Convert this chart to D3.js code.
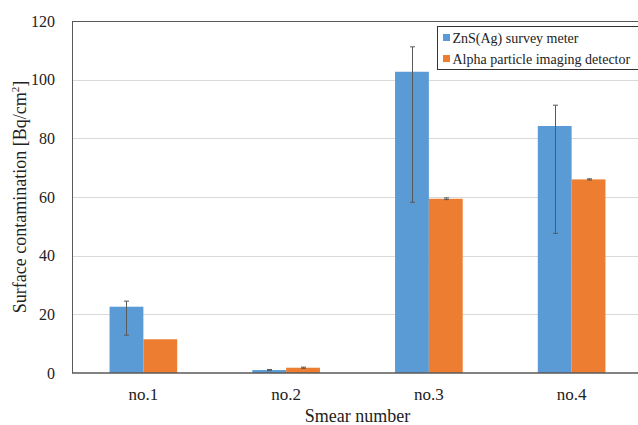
<!DOCTYPE html>
<html>
<head>
<meta charset="utf-8">
<script src="https://cdn.jsdelivr.net/npm/d3@7"></script>
<style>
  body { margin: 0; background: #fff; }
  svg text { font-family: "Liberation Serif", "Times New Roman", serif; fill: #222; }
</style>
</head>
<body>
<svg id="chart" width="638" height="425"></svg>
<script>
// data
var categories = ['no.1', 'no.2', 'no.3', 'no.4'];
var seriesNames = ['ZnS(Ag) survey meter', 'Alpha particle imaging detector'];
var znsValues = [22.6, 1.0, 102.7, 84.2];
var znsUpper = [24.5, 1.2, 111.2, 91.3];
var znsLower = [12.9, 0.8, 58.2, 47.6];
var alphaValues = [11.5, 1.8, 59.4, 66.0];
var alphaUpper = [11.5, 2.0, 59.7, 66.2];
var alphaLower = [11.5, 1.6, 59.1, 65.8];
var yTicks = [0, 20, 40, 60, 80, 100, 120];

var colors = ['#5B9BD5', '#ED7D31'];
var series = [
  { values: znsValues, upper: znsUpper, lower: znsLower },
  { values: alphaValues, upper: alphaUpper, lower: alphaLower }
];

var svg = d3.select('#chart');
// plot runs off the right edge like the source crop
var plotLeft = 72, plotTop = 21, plotRight = 643, plotBottom = 373;

var x = d3.scaleBand().domain(categories).range([plotLeft, plotRight]).paddingInner(0).paddingOuter(0);
var barW = x.bandwidth() * 0.237;
var y = d3.scaleLinear().domain([0, 120]).range([plotBottom, plotTop]);

// gridlines
svg.append('g').selectAll('line').data(yTicks.filter(function(t) { return t > 0 && t < 120 }))
  .enter().append('line')
  .attr('x1', plotLeft).attr('x2', plotRight)
  .attr('y1', function(d) { return Math.round(y(d)) + 0.5 }).attr('y2', function(d) { return Math.round(y(d)) + 0.5 })
  .attr('stroke', '#d9d9d9').attr('stroke-width', 1);

// bars
series.forEach(function(s, si) {
  svg.append('g').selectAll('rect').data(s.values).enter().append('rect')
    .attr('x', function(d, i) { return x(categories[i]) + x.bandwidth() / 2 + (si - 1) * barW })
    .attr('width', barW)
    .attr('y', function(d) { return y(d) })
    .attr('height', function(d) { return plotBottom - y(d) })
    .attr('fill', colors[si]);
});

// error bars
series.forEach(function(s, si) {
  var g = svg.append('g').attr('stroke', '#595959').attr('stroke-width', 1);
  s.values.forEach(function(v, i) {
    var cx = Math.round(x(categories[i]) + x.bandwidth() / 2 + (si - 0.5) * barW) + 0.5;
    if (s.upper[i] - s.lower[i] < 0.05) return;
    g.append('line').attr('x1', cx).attr('x2', cx).attr('y1', y(s.upper[i])).attr('y2', y(s.lower[i]));
    [s.upper[i], s.lower[i]].forEach(function(e) {
      g.append('line').attr('x1', cx - 2.5).attr('x2', cx + 2.5).attr('y1', y(e)).attr('y2', y(e));
    });
  });
});

// axes frame
svg.append('line').attr('x1', plotLeft).attr('x2', plotRight).attr('y1', plotTop + 0.5).attr('y2', plotTop + 0.5)
  .attr('stroke', '#595959').attr('stroke-width', 1);
svg.append('line').attr('x1', plotLeft + 0.5).attr('x2', plotLeft + 0.5).attr('y1', plotTop).attr('y2', plotBottom)
  .attr('stroke', '#595959').attr('stroke-width', 1);
svg.append('line').attr('x1', plotLeft).attr('x2', plotRight).attr('y1', plotBottom).attr('y2', plotBottom)
  .attr('stroke', '#595959').attr('stroke-width', 1.3);

// y tick labels
svg.append('g').selectAll('text').data(yTicks).enter().append('text')
  .attr('x', plotLeft - 17).attr('y', function(d) { return y(d) + 5.7 })
  .attr('text-anchor', 'end').attr('font-size', 16)
  .text(function(d) { return d });

// x tick labels
svg.append('g').selectAll('text').data(categories).enter().append('text')
  .attr('x', function(d) { return x(d) + x.bandwidth() / 2 }).attr('y', 400)
  .attr('text-anchor', 'middle').attr('font-size', 17)
  .text(function(d) { return d });

// axis titles
svg.append('text').attr('x', (plotLeft + 643) / 2).attr('y', 421.5)
  .attr('text-anchor', 'middle').attr('font-size', 18).text('Smear number');

var yt = svg.append('text').attr('transform', 'translate(25.5,' + (plotTop + plotBottom) / 2 + ') rotate(-90)')
  .attr('text-anchor', 'middle').attr('font-size', 18);
yt.append('tspan').text('Surface contamination [Bq/cm');
yt.append('tspan').attr('font-size', 11).attr('dy', -7).text('2');
yt.append('tspan').attr('dy', 7).text(']');

// legend
var lg = svg.append('g');
lg.append('rect').attr('x', 437.5).attr('y', 26.5).attr('width', 210).attr('height', 43)
  .attr('fill', '#fff').attr('stroke', '#333').attr('stroke-width', 1);
seriesNames.forEach(function(name, i) {
  lg.append('rect').attr('x', 443).attr('y', 34 + i * 21).attr('width', 7).attr('height', 7).attr('fill', colors[i]);
  lg.append('text').attr('x', 452.5).attr('y', 42.5 + i * 21).attr('font-size', 14).text(name);
});
</script>
</body>
</html>
